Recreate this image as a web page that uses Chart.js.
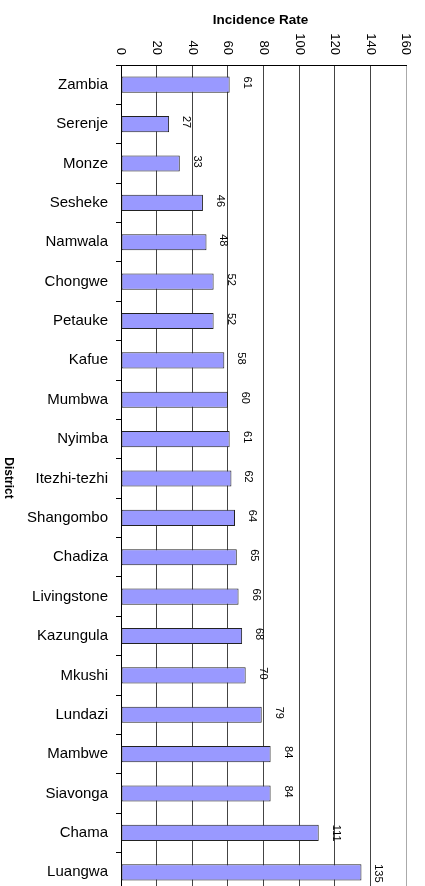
<!DOCTYPE html>
<html>
<head>
<meta charset="utf-8">
<script src="https://cdn.jsdelivr.net/npm/chart.js@4"></script>
<style>
  html, body { margin: 0; padding: 0; background: #fff; overflow: hidden; }
</style>
</head>
<body>
<canvas id="chart" width="425" height="892"></canvas>
<script>
const districts = ['Zambia', 'Serenje', 'Monze', 'Sesheke', 'Namwala', 'Chongwe', 'Petauke', 'Kafue',
  'Mumbwa', 'Nyimba', 'Itezhi-tezhi', 'Shangombo', 'Chadiza', 'Livingstone', 'Kazungula', 'Mkushi',
  'Lundazi', 'Mambwe', 'Siavonga', 'Chama', 'Luangwa'];
const incidence = [61, 27, 33, 46, 48, 52, 52, 58, 60, 61, 62, 64, 65, 66, 68, 70, 79, 84, 84, 111, 135];
const rateTicks = [0, 20, 40, 60, 80, 100, 120, 140, 160];

const FONT = '"Liberation Sans", Arial, sans-serif';

// excel style rotated labels + titles
const rotatedText = {
  id: 'rotatedText',
  afterDraw: (chart) => {
    const { ctx, chartArea: { left, right, top }, scales: { x } } = chart;
    ctx.save();
    ctx.fillStyle = '#000';

    // x tick labels, turned clockwise
    ctx.font = '13px ' + FONT;
    ctx.textAlign = 'right';
    ctx.textBaseline = 'middle';
    rateTicks.forEach(v => {
      ctx.save();
      ctx.translate(x.getPixelForValue(v), top - 10);
      ctx.rotate(Math.PI / 2);
      ctx.fillText(String(v), 0, 0);
      ctx.restore();
    });

    // value labels next to bars
    ctx.font = '11px ' + FONT;
    ctx.textAlign = 'left';
    const meta = chart.getDatasetMeta(0);
    meta.data.forEach((bar, i) => {
      ctx.save();
      ctx.translate(bar.x + 17, bar.y - bar.height / 2);
      ctx.rotate(Math.PI / 2);
      ctx.fillText(String(incidence[i]), 0, 0);
      ctx.restore();
    });

    // titles
    ctx.textAlign = 'center';
    ctx.font = 'bold 13.5px ' + FONT;
    ctx.fillText('Incidence Rate', (left + right) / 2 - 3, 20);
    ctx.font = 'bold 12px ' + FONT;
    ctx.save();
    ctx.translate(8, 478);
    ctx.rotate(Math.PI / 2);
    ctx.fillText('District', 0, 0);
    ctx.restore();

    ctx.restore();
  }
};

new Chart(document.getElementById('chart').getContext('2d'), {
  type: 'bar',
  data: {
    labels: districts,
    datasets: [{
      label: 'Incidence Rate',
      data: incidence,
      backgroundColor: '#9999ff',
      borderColor: '#222',
      borderWidth: 1,
      borderSkipped: false,
      categoryPercentage: 1,
      barPercentage: 0.41
    }]
  },
  options: {
    indexAxis: 'y',
    responsive: false,
    animation: false,
    layout: { padding: { left: 0, right: 19, top: 0, bottom: 0 } },
    plugins: {
      legend: { display: false },
      tooltip: { enabled: false }
    },
    scales: {
      x: {
        position: 'top',
        min: 0,
        max: 160,
        ticks: { stepSize: 20, display: false },
        grid: {
          color: (c) => c.tick && c.tick.value === 160 ? '#aaa' : '#444',
          lineWidth: 1,
          drawTicks: false
        },
        border: { display: true, color: '#000', width: 1 },
        afterFit: (scale) => {
          scale.height = 65;
          scale.paddingLeft = 0;
          scale.paddingRight = 0;
        }
      },
      y: {
        ticks: { color: '#000', font: { family: FONT, size: 15 }, padding: 8 },
        grid: { drawOnChartArea: false, drawTicks: true, tickLength: 5, color: '#000', offset: true },
        border: { display: true, color: '#000', width: 1 },
        afterFit: (scale) => {
          scale.width = 121;
          scale.paddingTop = 0;
          scale.paddingBottom = 0;
        }
      }
    }
  },
  plugins: [rotatedText]
});
</script>
</body>
</html>
